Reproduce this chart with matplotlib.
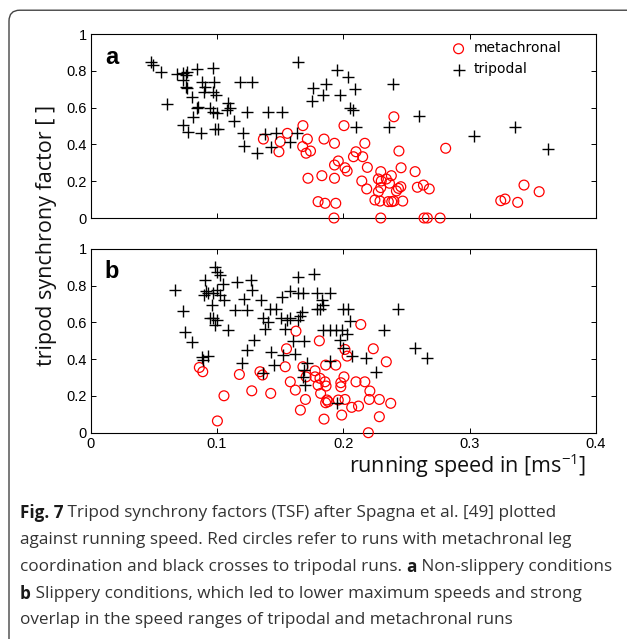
import numpy as np
import matplotlib
matplotlib.use("Agg")
import matplotlib.pyplot as plt
from matplotlib.patches import FancyBboxPatch

# ----- Datos -----

# Panel a (no resbaladizo): tripodal
a_trip_x = [0.0475, 0.049, 0.0557, 0.068, 0.0607, 0.0733, 0.0755, 0.0765, 0.0733, 0.0755,
            0.0765, 0.080, 0.084, 0.088, 0.0905, 0.0897, 0.0966, 0.098, 0.0966, 0.0992,
            0.084, 0.085, 0.081, 0.0945, 0.097, 0.0998, 0.109, 0.110, 0.1077, 0.1135,
            0.1235, 0.0728, 0.0773, 0.087, 0.0984, 0.101, 0.1203, 0.1214, 0.132, 0.118,
            0.1275, 0.164, 0.195, 0.2035, 0.1757, 0.1863, 0.184, 0.197, 0.209, 0.175,
            0.205, 0.2075, 0.210, 0.2365, 0.239, 0.260, 0.1406, 0.1517, 0.138, 0.1467,
            0.158, 0.163, 0.143, 0.3035, 0.336, 0.3623]
a_trip_y = [0.846, 0.832, 0.795, 0.781, 0.620, 0.786, 0.777, 0.795, 0.750, 0.714,
            0.705, 0.660, 0.810, 0.740, 0.714, 0.686, 0.814, 0.737, 0.686, 0.668,
            0.596, 0.605, 0.550, 0.596, 0.574, 0.569, 0.623, 0.596, 0.587, 0.529,
            0.574, 0.505, 0.466, 0.460, 0.484, 0.484, 0.460, 0.393, 0.352, 0.741,
            0.741, 0.846, 0.804, 0.768, 0.705, 0.727, 0.668, 0.668, 0.701, 0.636,
            0.599, 0.587, 0.497, 0.497, 0.727, 0.556, 0.574, 0.574, 0.455, 0.460,
            0.415, 0.460, 0.388, 0.447, 0.496, 0.375]

# Panel a: metacronal
a_meta_x = [0.1367, 0.1557, 0.168, 0.150, 0.149, 0.1715, 0.1678, 0.1705, 0.174, 0.1847,
            0.193, 0.2005, 0.217, 0.210, 0.208, 0.2153, 0.196, 0.193, 0.2013, 0.203,
            0.219, 0.172, 0.183, 0.193, 0.2146, 0.2185, 0.2296, 0.2277, 0.230, 0.234,
            0.238, 0.2365, 0.2296, 0.2277, 0.244, 0.240, 0.2457, 0.2436, 0.2455, 0.242,
            0.2568, 0.2634, 0.2586, 0.268, 0.180, 0.1855, 0.194, 0.225, 0.229, 0.2356,
            0.2383, 0.240, 0.247, 0.1926, 0.2296, 0.2639, 0.2665, 0.2766, 0.281, 0.3246,
            0.328, 0.338, 0.343, 0.355]
a_meta_y = [0.429, 0.460, 0.502, 0.415, 0.360, 0.429, 0.388, 0.352, 0.364, 0.429,
            0.406, 0.502, 0.406, 0.360, 0.333, 0.333, 0.310, 0.288, 0.273, 0.255,
            0.275, 0.216, 0.230, 0.216, 0.201, 0.158, 0.252, 0.212, 0.201, 0.212,
            0.230, 0.189, 0.165, 0.143, 0.364, 0.550, 0.273, 0.161, 0.170, 0.147,
            0.252, 0.179, 0.167, 0.158, 0.089, 0.080, 0.080, 0.098, 0.092, 0.089,
            0.089, 0.092, 0.092, 0.0, 0.0, 0.0, 0.0, 0.0, 0.379, 0.094,
            0.103, 0.085, 0.179, 0.143]

# Panel b (resbaladizo): tripodal
b_trip_x = [0.0667, 0.0728, 0.0747, 0.080, 0.0905, 0.0913, 0.0897, 0.0931, 0.0984, 0.0998,
            0.1024, 0.097, 0.1003, 0.1024, 0.1045, 0.1055, 0.0958, 0.0945, 0.097, 0.0998,
            0.0984, 0.109, 0.1156, 0.121, 0.114, 0.1235, 0.1267, 0.1275, 0.129, 0.1235,
            0.1196, 0.088, 0.093, 0.0891, 0.135, 0.164, 0.177, 0.158, 0.1517, 0.1644,
            0.1683, 0.179, 0.1895, 0.183, 0.184, 0.142, 0.147, 0.179, 0.1815, 0.200,
            0.204, 0.2436, 0.1367, 0.1406, 0.151, 0.155, 0.158, 0.1657, 0.167, 0.1644,
            0.205, 0.138, 0.154, 0.184, 0.1895, 0.194, 0.1987, 0.2027, 0.232, 0.160,
            0.169, 0.197, 0.1995, 0.143, 0.152, 0.1618, 0.2067, 0.218, 0.2568, 0.2665,
            0.145, 0.136, 0.171, 0.169, 0.168, 0.170, 0.1895, 0.2259, 0.1953]
b_trip_y = [0.779, 0.661, 0.549, 0.495, 0.830, 0.772, 0.752, 0.758, 0.902, 0.875,
            0.857, 0.758, 0.776, 0.748, 0.808, 0.721, 0.694, 0.627, 0.622, 0.616,
            0.585, 0.558, 0.821, 0.730, 0.667, 0.667, 0.830, 0.776, 0.504, 0.450,
            0.377, 0.413, 0.417, 0.396, 0.724, 0.848, 0.862, 0.772, 0.739, 0.758,
            0.758, 0.758, 0.758, 0.721, 0.694, 0.671, 0.671, 0.671, 0.671, 0.671,
            0.671, 0.671, 0.622, 0.603, 0.622, 0.616, 0.622, 0.634, 0.658, 0.612,
            0.609, 0.562, 0.562, 0.558, 0.558, 0.558, 0.558, 0.540, 0.558, 0.500,
            0.500, 0.504, 0.459, 0.440, 0.422, 0.428, 0.417, 0.404, 0.459, 0.404,
            0.368, 0.323, 0.380, 0.341, 0.304, 0.259, 0.391, 0.332, 0.160]

# Panel b: metacronal
b_meta_x = [0.086, 0.0887, 0.1055, 0.1003, 0.1177, 0.1275, 0.134, 0.136, 0.1425, 0.154,
            0.155, 0.1625, 0.158, 0.162, 0.166, 0.170, 0.168, 0.1705, 0.1776, 0.1776,
            0.1815, 0.180, 0.182, 0.1855, 0.1863, 0.186, 0.194, 0.181, 0.187, 0.188,
            0.186, 0.1847, 0.196, 0.1987, 0.198, 0.198, 0.2005, 0.2013, 0.203, 0.2013,
            0.2066, 0.212, 0.210, 0.217, 0.221, 0.2205, 0.2138, 0.2237, 0.2285, 0.2285,
            0.234, 0.2375, 0.2198]
b_meta_y = [0.355, 0.332, 0.201, 0.064, 0.317, 0.228, 0.332, 0.314, 0.214, 0.359,
            0.457, 0.553, 0.277, 0.232, 0.123, 0.181, 0.359, 0.304, 0.337, 0.304,
            0.296, 0.259, 0.214, 0.277, 0.254, 0.368, 0.368, 0.500, 0.178, 0.169,
            0.163, 0.074, 0.178, 0.096, 0.272, 0.250, 0.304, 0.453, 0.417, 0.181,
            0.138, 0.145, 0.277, 0.277, 0.227, 0.181, 0.589, 0.457, 0.181, 0.087,
            0.386, 0.160, 0.0]

x_ticks = [0, 0.1, 0.2, 0.3, 0.4]
x_ticklabels = ['0', '0.1', '0.2', '0.3', '0.4']
y_ticks = [0, 0.2, 0.4, 0.6, 0.8, 1]
y_ticklabels = ['0', '0.2', '0.4', '0.6', '0.8', '1']

caption = [
    [("Fig. 7", "bold"), (" Tripod synchrony factors (TSF) after Spagna et al. [49] plotted", "normal")],
    [("against running speed. Red circles refer to runs with metachronal leg", "normal")],
    [("coordination and black crosses to tripodal runs. ", "normal"), ("a", "bold"),
     (" Non-slippery conditions", "normal")],
    [("b", "bold"), (" Slippery conditions, which led to lower maximum speeds and strong", "normal")],
    [("overlap in the speed ranges of tripodal and metachronal runs", "normal")],
]

# ----- Figura -----

W, H = 627, 639
fig = plt.figure(figsize=(W / 100, H / 100), dpi=100)

# marco redondeado alrededor de todo
marco = FancyBboxPatch((9 / W, -0.02), 1.02 - 9 / W, 0.984 + 0.02,
                       boxstyle="round,pad=0,rounding_size=0.017",
                       transform=fig.transFigure, fill=False,
                       edgecolor='#444444', linewidth=1.0)
fig.patches.append(marco)

ax_l = 90.7 / W
ax_w = (596 - 90.7) / W
ax_a = fig.add_axes([ax_l, 1 - 218 / H, ax_w, (218 - 34) / H])
ax_b = fig.add_axes([ax_l, 1 - 432.7 / H, ax_w, (432.7 - 249) / H])

tick_font = 'Liberation Sans'

def dibujar_panel(ax, tx, ty, mx, my, letra):
    ax.scatter(mx, my, s=50, marker='o', facecolors='none', edgecolors='red',
               linewidths=0.9, clip_on=False, zorder=3, label='metachronal')
    ax.scatter(tx, ty, s=75, marker='+', color='black',
               linewidths=1.0, clip_on=False, zorder=4, label='tripodal')
    ax.set_xlim(0, 0.4)
    ax.set_ylim(0, 1)
    ax.set_xticks(x_ticks)
    ax.set_yticks(y_ticks)
    ax.set_yticklabels(y_ticklabels, fontfamily=tick_font, fontsize=10.5)
    ax.tick_params(direction='in', length=3.5, width=0.7, top=True, right=True,
                   pad=3, colors='black')
    for sp in ax.spines.values():
        sp.set_linewidth(0.8)
    ax.text(0.028, 0.875, letra, transform=ax.transAxes, fontsize=17,
            fontweight='bold', fontfamily='Liberation Sans', va='center', ha='left')

dibujar_panel(ax_a, a_trip_x, a_trip_y, a_meta_x, a_meta_y, 'a')
dibujar_panel(ax_b, b_trip_x, b_trip_y, b_meta_x, b_meta_y, 'b')

ax_a.set_xticklabels([])
ax_b.set_xticklabels(x_ticklabels, fontfamily=tick_font, fontsize=10.5)

ax_a.legend(loc='upper left', bbox_to_anchor=(0.695, 1.005), frameon=False,
            handletextpad=0.5, labelspacing=0.5, borderaxespad=0.2,
            handlelength=1.2, prop={'family': 'DejaVu Sans', 'size': 10})

label_font = 'Open Sans'
fig.text(47 / W, 1 - 235 / H, 'tripod synchrony factor [ ]', rotation=90,
         ha='center', va='center', fontsize=15.5, fontfamily=label_font, color='#111111')
fig.text(468 / W, 1 - 466 / H, r'running speed in [ms$^{\mathregular{-1}}$]',
         ha='center', va='center', fontsize=15.5, fontfamily=label_font, color='#111111')

# pie de figura con partes en negrita
fig.canvas.draw()
renderer = fig.canvas.get_renderer()
lineas_y = [513, 540, 567, 594, 620]
for partes, yy in zip(caption, lineas_y):
    x0 = 20 / W
    for texto, peso in partes:
        t = fig.text(x0, 1 - yy / H, texto, ha='left', va='center', fontsize=12.3,
                     fontfamily=label_font, fontweight=peso,
                     color='#1a1a1a' if peso == 'bold' else '#333333')
        bb = t.get_window_extent(renderer=renderer)
        x0 += bb.width / W

fig.savefig('out.png', dpi=100)
